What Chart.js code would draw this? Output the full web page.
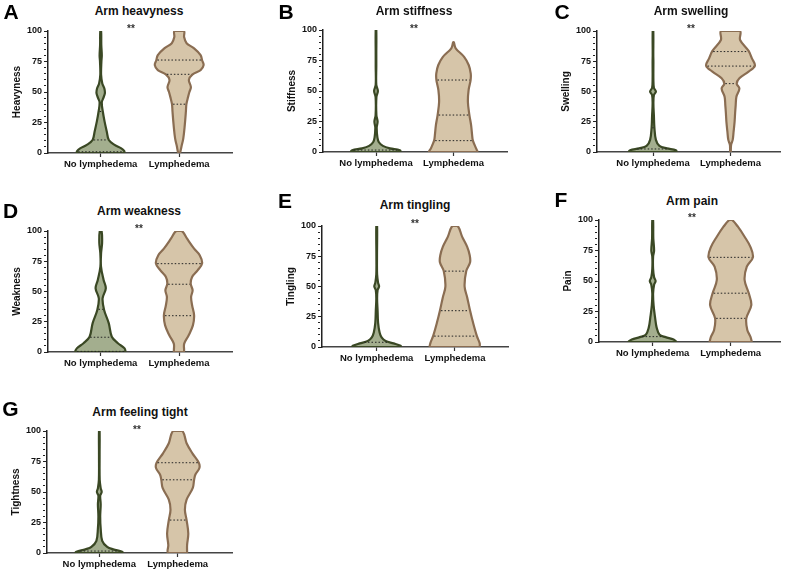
<!DOCTYPE html>
<html><head><meta charset="utf-8">
<script src="https://cdn.jsdelivr.net/npm/chart.js@4.4.0/dist/chart.umd.min.js"></script>
<style>
body{margin:0;background:#fff;width:786px;height:571px;overflow:hidden;position:relative;font-family:"Liberation Sans",Arial,sans-serif;}
.t{position:absolute;transform:translate(-50%,-50%);font-weight:bold;white-space:nowrap;line-height:1;color:#111;}
canvas{position:absolute;}
</style></head><body>
<script>
// ---------- data ----------
const categories = ['No lymphedema', 'Lymphedema'];
const categoryPositions = [1, 2.5];
const yMajorTicks = [0, 25, 50, 75, 100];
const panelLetters = ['A', 'B', 'C', 'D', 'E', 'F', 'G'];
const panelTitles = ['Arm heavyness', 'Arm stiffness', 'Arm swelling', 'Arm weakness', 'Arm tingling', 'Arm pain', 'Arm feeling tight'];
const yAxisTitles = ['Heavyness', 'Stiffness', 'Swelling', 'Weakness', 'Tingling', 'Pain', 'Tightness'];
const significance = ['**', '**', '**', '**', '**', '**', '**'];

// violin profiles: [score, density half-width]
const heavinessNo = [[0,24.7],[1.6,24.7],[3.8,21.7],[6.6,15],[10.7,9.2],[17.5,7.2],[25.7,5],[34,3.2],[41.5,2.2],[45,3.7],[49,5.3],[53,4.7],[57,2.7],[64,1.5],[75,1.8],[80,2.2],[88.5,1.7],[100,1.5]];
const heavinessLy = [[0,2],[5,3.3],[12,5.2],[23,6.7],[34,7.8],[40,8.3],[46,10],[50,11.3],[54,12.8],[60,10.8],[64.5,14.5],[68,22.5],[72,25.5],[76,24],[80.3,22.5],[85.8,16],[90,8.5],[95,6],[100,5.8]];
const stiffnessNo = [[0,26],[1.5,25],[3,15],[5,8],[8,4],[12,2.5],[20,1.8],[25,2.7],[30,1.5],[45,1.5],[50,3],[55,1.3],[70,1],[80,1.2],[100,0.8]];
const stiffnessLy = [[0,25.3],[3,23.7],[9.3,20.5],[14,19.7],[22,18.7],[30.3,17],[41,15.5],[50.8,16.2],[59,18.2],[64.5,18.3],[71.3,16.3],[78,11.7],[85,3.3],[90,0.5]];
const swellingNo = [[0,25],[1.5,24],[3,15],[5,7.5],[10,4],[20,2.5],[30,2],[40,1.5],[47,2],[50,4],[53,2],[60,1.5],[75,1.5],[80,1],[100,1]];
const swellingLy = [[0,0.5],[6,1.7],[10,3.3],[16.8,4.2],[25,5.2],[32,5.7],[38.8,6.3],[45.7,7],[52.5,10],[56.5,7.3],[60.9,10],[66.4,19.2],[71.3,25.5],[77.4,22.5],[83.5,19.2],[92.6,10.7],[100,10.5]];
const weaknessNo = [[0,26],[3,25],[7.2,18.3],[12.6,12.2],[23.7,9.2],[34.7,4.5],[44.4,3],[52.6,6.2],[59.5,4],[70.5,1.2],[81.8,1.5],[90,2.5],[100,2]];
const weaknessLy = [[0,6],[1.4,6.2],[6.9,6.3],[13.8,10.8],[22,15],[30.3,16.2],[38.6,14.2],[45.5,13.2],[51,14.7],[56.5,12.8],[62,14.2],[67.5,19.7],[73.3,24.2],[80,21.8],[85.4,16.2],[93.6,9.2],[100,4]];
const tinglingNo = [[0,25.5],[1,25],[3,18],[5,10],[8,6],[12,4],[20,2.5],[30,2],[40,1.5],[47,2],[50,3.5],[53,2.5],[60,1.5],[75,1.2],[100,1.5]];
const tinglingLy = [[0,25.8],[3,25.8],[9,23],[20,19.2],[30,16.2],[41,13.3],[50,10.7],[62.7,12.3],[70,16.2],[75.8,15.8],[82.7,13.3],[91,8.3],[100,3.8]];
const painNo = [[0,25],[2,22],[4,14],[6,8],[12,5],[20,3.5],[30,2],[40,1.5],[47,2.5],[50,4],[53,2.5],[60,1.5],[70,1.5],[75,2.5],[85,1.7],[100,1.5]];
const painLy = [[0,22],[0.8,22],[4.4,20.8],[9.8,17.7],[19.4,16.7],[30.3,21.7],[39.9,19.2],[50.8,15],[61.7,17.2],[69.4,23.3],[78,20.8],[86.3,15],[94.5,8.3],[100,2.5]];
const tightNo = [[0,25],[1,24],[3,15],[5,9],[10,4],[20,2.5],[30,2],[40,2.5],[47,2],[50,3.5],[53,2.5],[60,1.5],[80,1.2],[100,1]];
const tightLy = [[0,10.5],[6.6,10.5],[16,11.7],[27,10],[35.5,8.3],[43.7,10],[53.3,16.2],[60,17.5],[64.3,18.8],[69.7,22.8],[74,22.2],[81.7,15.8],[90,10],[100,5.7]];

// quartile lines (dotted)
const heavinessNoQ = [1, 10.7, 34];
const heavinessLyQ = [40, 64.5, 76.2];
const stiffnessNoQ = [1.6];
const stiffnessLyQ = [9.3, 30.3, 59];
const swellingNoQ = [2.5, 20];
const swellingLyQ = [56.5, 71, 83];
const weaknessNoQ = [0.5, 12.2, 35.3];
const weaknessLyQ = [30, 56, 73];
const tinglingNoQ = [3.9];
const tinglingLyQ = [9, 30, 62.7];
const painNoQ = [4.4];
const painLyQ = [19.4, 40, 69.4];
const tightNoQ = [1.6];
const tightLyQ = [27, 60, 74];

const noProfiles = [heavinessNo, stiffnessNo, swellingNo, weaknessNo, tinglingNo, painNo, tightNo];
const lyProfiles = [heavinessLy, stiffnessLy, swellingLy, weaknessLy, tinglingLy, painLy, tightLy];
const noQuartiles = [heavinessNoQ, stiffnessNoQ, swellingNoQ, weaknessNoQ, tinglingNoQ, painNoQ, tightNoQ];
const lyQuartiles = [heavinessLyQ, stiffnessLyQ, swellingLyQ, weaknessLyQ, tinglingLyQ, painLyQ, tightLyQ];

// ---------- layout & style ----------
const layouts = [
  {L:48, R:232, T:31, B:153, c1:100.7, c2:179.2, title:[139,11], star:[131,27], letter:[11,10.5]},
  {L:323, R:507, T:30, B:152, c1:376, c2:453.5, title:[414,11], star:[414,27], letter:[286,11]},
  {L:597, R:780, T:31, B:152, c1:653, c2:730.5, title:[691,11], star:[691,27], letter:[562,11]},
  {L:48, R:232, T:231, B:352, c1:100.7, c2:179, title:[139,211], star:[139,227], letter:[10.5,210]},
  {L:322, R:508, T:226, B:347, c1:376.7, c2:455, title:[415,205], star:[415,222], letter:[285,200]},
  {L:599, R:780, T:220, B:342, c1:652.7, c2:730.7, title:[692,201], star:[692,216], letter:[561,198.5]},
  {L:47, R:232, T:431, B:553, c1:99.3, c2:177.7, title:[140,412], star:[137,428], letter:[10.5,407.5]}
];
const FONT = '"Liberation Sans", Arial, sans-serif';
const AXIS_W = 48, XAXIS_H = 20, PAD_T = 10, PAD_R = 8, PAD_B = 2;
const NO_FILL = '#a3ae8e', NO_BORDER = '#3a4824';
const LY_FILL = '#d6c5a9', LY_BORDER = '#8a6d52';
const BORDER_W = 2.2;

Chart.defaults.font.family = FONT;

function addText(txt, xy, size) {
  const d = document.createElement('div');
  d.className = 't';
  d.textContent = txt;
  d.style.left = xy[0] + 'px';
  d.style.top = xy[1] + 'px';
  d.style.fontSize = size + 'px';
  document.body.appendChild(d);
  return d;
}

function widthAt(profile, q) {
  for (let i = 1; i < profile.length; i++) {
    const [v0, w0] = profile[i - 1], [v1, w1] = profile[i];
    if (q <= v1) return w0 + (w1 - w0) * (q - v0) / ((v1 - v0) || 1);
  }
  return profile[profile.length - 1][1];
}

function violinPoints(profile, center, ppu) {
  const off = w => Math.max(w - BORDER_W / 2, 0.3) / ppu;
  const right = profile.map(([v, w]) => ({x: center + off(w), y: v}));
  const left = profile.slice().reverse().map(([v, w]) => ({x: center - off(w), y: v}));
  return [...right, ...left, right[0]];
}

function makePanel(i) {
  const lay = layouts[i];
  const ppu = (lay.c2 - lay.c1) / (categoryPositions[1] - categoryPositions[0]);
  const xMin = categoryPositions[0] - (lay.c1 - lay.L) / ppu;
  const xMax = xMin + (lay.R - lay.L) / ppu;
  const left = lay.L - AXIS_W, top = lay.T - PAD_T;
  const w = lay.R - left + PAD_R, h = lay.B - top + XAXIS_H + PAD_B;
  const cv = document.createElement('canvas');
  cv.width = w; cv.height = h;
  cv.style.left = left + 'px'; cv.style.top = top + 'px';
  cv.style.width = w + 'px'; cv.style.height = h + 'px';
  document.body.appendChild(cv);

  const datasets = [];
  const groups = [
    {profile: noProfiles[i], q: noQuartiles[i], c: categoryPositions[0], fill: NO_FILL, border: NO_BORDER},
    {profile: lyProfiles[i], q: lyQuartiles[i], c: categoryPositions[1], fill: LY_FILL, border: LY_BORDER}
  ];
  groups.forEach(g => {
    datasets.push({
      data: violinPoints(g.profile, g.c, ppu),
      borderColor: g.border, backgroundColor: g.fill, borderWidth: BORDER_W,
      fill: 'shape', tension: 0.35, pointRadius: 0, order: 2
    });
    g.q.forEach(q => {
      const hw = Math.max(widthAt(g.profile, q) - BORDER_W, 0.6) / ppu;
      datasets.push({
        data: [{x: g.c - hw, y: q}, {x: g.c + hw, y: q}],
        borderColor: '#222', borderWidth: 1, borderDash: [1.5, 2],
        fill: false, tension: 0, pointRadius: 0, order: 0
      });
    });
  });

  new Chart(cv, {
    type: 'line',
    data: {datasets},
    options: {
      responsive: false, animation: false, devicePixelRatio: 1,
      layout: {padding: {top: PAD_T, right: PAD_R, bottom: PAD_B, left: 0}},
      plugins: {legend: {display: false}, tooltip: {enabled: false}, title: {display: false}},
      scales: {
        x: {
          type: 'linear', min: xMin, max: xMax,
          afterFit: s => { s.height = XAXIS_H; },
          afterBuildTicks: s => { s.ticks = categoryPositions.map(v => ({value: v})); },
          ticks: {
            autoSkip: false, maxRotation: 0, padding: 2, color: '#111',
            font: {size: 9.5, weight: 'bold'},
            callback: (v, idx) => categories[idx]
          },
          grid: {drawOnChartArea: false, drawTicks: true, tickLength: 4, tickColor: '#333', tickWidth: 1.2},
          border: {display: true, color: '#444', width: 1.5}
        },
        y: {
          type: 'linear', min: 0, max: 100,
          afterFit: s => { s.width = AXIS_W; },
          ticks: {
            stepSize: 5, autoSkip: false, padding: 2, color: '#111',
            font: {size: 9, weight: 'bold'},
            callback: v => yMajorTicks.includes(v) ? String(v) : ''
          },
          grid: {
            drawOnChartArea: false, drawTicks: true, tickLength: 4, tickColor: '#222', tickWidth: 1,
            tickBorderDash: ctx => (ctx.tick && yMajorTicks.includes(ctx.tick.value)) ? [] : [2, 20]
          },
          border: {display: true, color: '#222', width: 1.5},
          title: {display: true, text: yAxisTitles[i], color: '#111', font: {size: 10, weight: 'bold'}, padding: {top: 11, bottom: 0}}
        }
      }
    }
  });

  addText(panelTitles[i], lay.title, 12);
  const st = addText(significance[i], [lay.star[0], lay.star[1] + 2], 10);
  st.style.color = '#333';
  addText(panelLetters[i], lay.letter, 21).style.color = '#000';
}

for (let i = 0; i < layouts.length; i++) makePanel(i);
</script>
</body></html>
